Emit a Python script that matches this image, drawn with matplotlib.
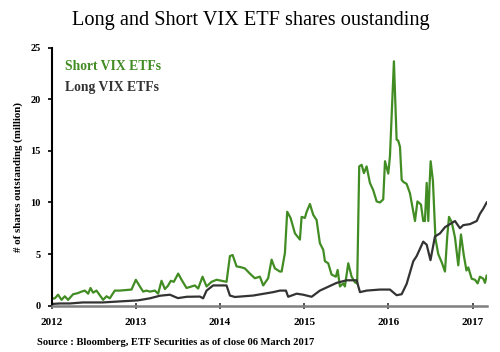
import matplotlib
matplotlib.use("Agg")
import matplotlib.pyplot as plt

# decimal years and values (million shares)
short_t = [2012.000, 2012.039, 2012.078, 2012.119, 2012.158, 2012.197, 2012.257, 2012.312, 2012.356, 2012.395,
           2012.435, 2012.463, 2012.494, 2012.534, 2012.574, 2012.613, 2012.653, 2012.692, 2012.751, 2012.811,
           2012.882, 2012.950, 2013.001, 2013.049, 2013.088, 2013.128, 2013.168, 2013.227, 2013.266, 2013.306,
           2013.346, 2013.381, 2013.417, 2013.452, 2013.504, 2013.544, 2013.603, 2013.663, 2013.702, 2013.741,
           2013.793, 2013.841, 2013.900, 2013.960, 2014.019, 2014.078, 2014.118, 2014.150, 2014.197, 2014.257,
           2014.296, 2014.355, 2014.414, 2014.474, 2014.513, 2014.572, 2014.613, 2014.652, 2014.711, 2014.732,
           2014.771, 2014.798, 2014.838, 2014.890, 2014.949, 2014.969, 2015.008, 2015.029, 2015.068, 2015.107,
           2015.147, 2015.186, 2015.226, 2015.246, 2015.285, 2015.325, 2015.376, 2015.397, 2015.424, 2015.463,
           2015.483, 2015.523, 2015.563, 2015.602, 2015.629, 2015.653, 2015.682, 2015.709, 2015.741, 2015.780,
           2015.819, 2015.860, 2015.899, 2015.938, 2015.959, 2015.998, 2016.018, 2016.065, 2016.097, 2016.116,
           2016.137, 2016.157, 2016.176, 2016.216, 2016.255, 2016.295, 2016.315, 2016.344, 2016.386, 2016.413,
           2016.433, 2016.454, 2016.473, 2016.487, 2016.501, 2016.528, 2016.558, 2016.591, 2016.632, 2016.671,
           2016.698, 2016.719, 2016.751, 2016.790, 2016.829, 2016.861, 2016.894, 2016.926, 2016.948, 2016.988,
           2017.027, 2017.059, 2017.086, 2017.126, 2017.146, 2017.166]
short_v = [0.65, 0.7, 1.05, 0.55, 0.9, 0.55, 1.1, 1.2, 1.35, 1.45,
           1.15, 1.7, 1.25, 1.45, 1.0, 0.55, 0.9, 0.7, 1.45, 1.45,
           1.5, 1.55, 2.5, 1.85, 1.35, 1.45, 1.35, 1.45, 1.15, 2.4,
           1.6, 1.9, 2.4, 2.3, 3.1, 2.5, 1.7, 1.85, 1.95, 1.65,
           2.8, 1.85, 2.3, 2.5, 2.4, 2.3, 4.8, 4.9, 3.8, 3.7,
           3.6, 3.1, 2.65, 2.8, 1.95, 2.65, 4.45, 3.6, 3.3, 3.3,
           5.1, 9.1, 8.5, 7.0, 6.4, 8.6, 8.5, 9.1, 9.85, 8.8,
           8.3, 6.05, 5.4, 4.3, 4.1, 3.0, 2.8, 3.45, 1.85, 2.15,
           1.85, 4.1, 2.8, 2.25, 2.15, 13.5, 13.65, 12.85, 13.5, 11.9,
           11.2, 10.1, 10.0, 10.3, 14.0, 12.8, 14.5, 23.7, 16.1, 16.0,
           15.4, 12.2, 12.0, 11.8, 10.9, 9.1, 8.2, 10.1, 9.8, 8.2,
           8.2, 11.9, 8.2, 11.5, 14.0, 12.1, 6.5, 5.0, 4.2, 3.3,
           6.7, 8.6, 8.1, 6.6, 3.9, 6.9, 4.9, 3.4, 3.7, 2.6,
           2.5, 2.15, 2.8, 2.6, 2.2, 2.9]

long_t = [2012.000, 2012.099, 2012.217, 2012.372, 2012.609, 2012.811, 2013.025, 2013.168, 2013.287, 2013.406,
          2013.500, 2013.607, 2013.761, 2013.800, 2013.841, 2013.919, 2014.078, 2014.118, 2014.177, 2014.394,
          2014.632, 2014.711, 2014.783, 2014.810, 2014.910, 2014.988, 2015.088, 2015.186, 2015.266, 2015.385,
          2015.504, 2015.622, 2015.662, 2015.741, 2015.899, 2016.018, 2016.097, 2016.157, 2016.216, 2016.295,
          2016.335, 2016.413, 2016.454, 2016.499, 2016.552, 2016.612, 2016.671, 2016.730, 2016.790, 2016.849,
          2016.888, 2016.968, 2017.048, 2017.086, 2017.126, 2017.166]
long_v = [0.15, 0.2, 0.2, 0.3, 0.3, 0.4, 0.5, 0.7, 0.95, 1.05,
          0.72, 0.85, 0.87, 0.7, 1.45, 1.95, 1.95, 0.97, 0.83, 0.97,
          1.3, 1.45, 1.45, 0.85, 1.15, 1.05, 0.85, 1.45, 1.75, 2.2,
          2.45, 2.45, 1.3, 1.45, 1.55, 1.55, 1.0, 1.1, 2.1, 4.3,
          4.8, 6.2, 5.9, 4.4, 6.7, 7.0, 7.6, 7.9, 8.2, 7.5,
          7.8, 7.9, 8.2, 8.9, 9.4, 10.0]

years = [2012, 2013, 2014, 2015, 2016, 2017]
yticks = [0, 5, 10, 15, 20, 25]

title = "Long and Short VIX ETF shares oustanding"
ylabel = "# of shares outstanding (million)"
source = "Source : Bloomberg, ETF Securities as of close 06 March 2017"

green = "#428C24"
dark = "#333333"
serif = ["Liberation Serif", "DejaVu Serif"]

fig = plt.figure(figsize=(5.0, 3.52), dpi=100)
ax = fig.add_axes([0.103, 0.132, 0.871, 0.732])

ax.plot(short_t, short_v, color=green, lw=1.6, solid_joinstyle="round")
ax.plot(long_t, long_v, color=dark, lw=1.6, solid_joinstyle="round")

ax.set_xlim(2012, 2017.17)
ax.set_ylim(0, 25)
ax.set_xticks(years)
ax.set_xticklabels([str(y) for y in years], family=serif, fontweight="bold", fontsize=8)
ax.set_yticks(yticks)
ax.set_yticklabels([str(v) for v in yticks], family=serif, fontweight="bold", fontsize=7.5)
ax.tick_params(axis="x", direction="inout", length=4, width=1.2, color=dark, pad=7)
ax.tick_params(axis="y", direction="out", length=3, width=1.2, color="black", pad=5)

for s in ["top", "right"]:
    ax.spines[s].set_visible(False)
ax.spines["left"].set_color("black")
ax.spines["left"].set_linewidth(1.5)
ax.spines["bottom"].set_color("#7f7f7f")
ax.spines["bottom"].set_linewidth(1.8)

ax.set_ylabel(ylabel, family=serif, fontweight="bold", fontsize=7.8, labelpad=5)

ax.text(0.03, 0.926, "Short VIX ETFs", transform=ax.transAxes, color=green,
        family=serif, fontweight="bold", fontsize=9.8, va="center", ha="left")
ax.text(0.03, 0.845, "Long VIX ETFs", transform=ax.transAxes, color=dark,
        family=serif, fontweight="bold", fontsize=9.8, va="center", ha="left")

fig.text(0.502, 0.943, title, family=serif, fontsize=14.6, ha="center", va="center")
fig.text(0.074, 0.028, source, family=serif, fontweight="bold", fontsize=7.6, ha="left", va="center")

fig.savefig("out.png", dpi=100)
